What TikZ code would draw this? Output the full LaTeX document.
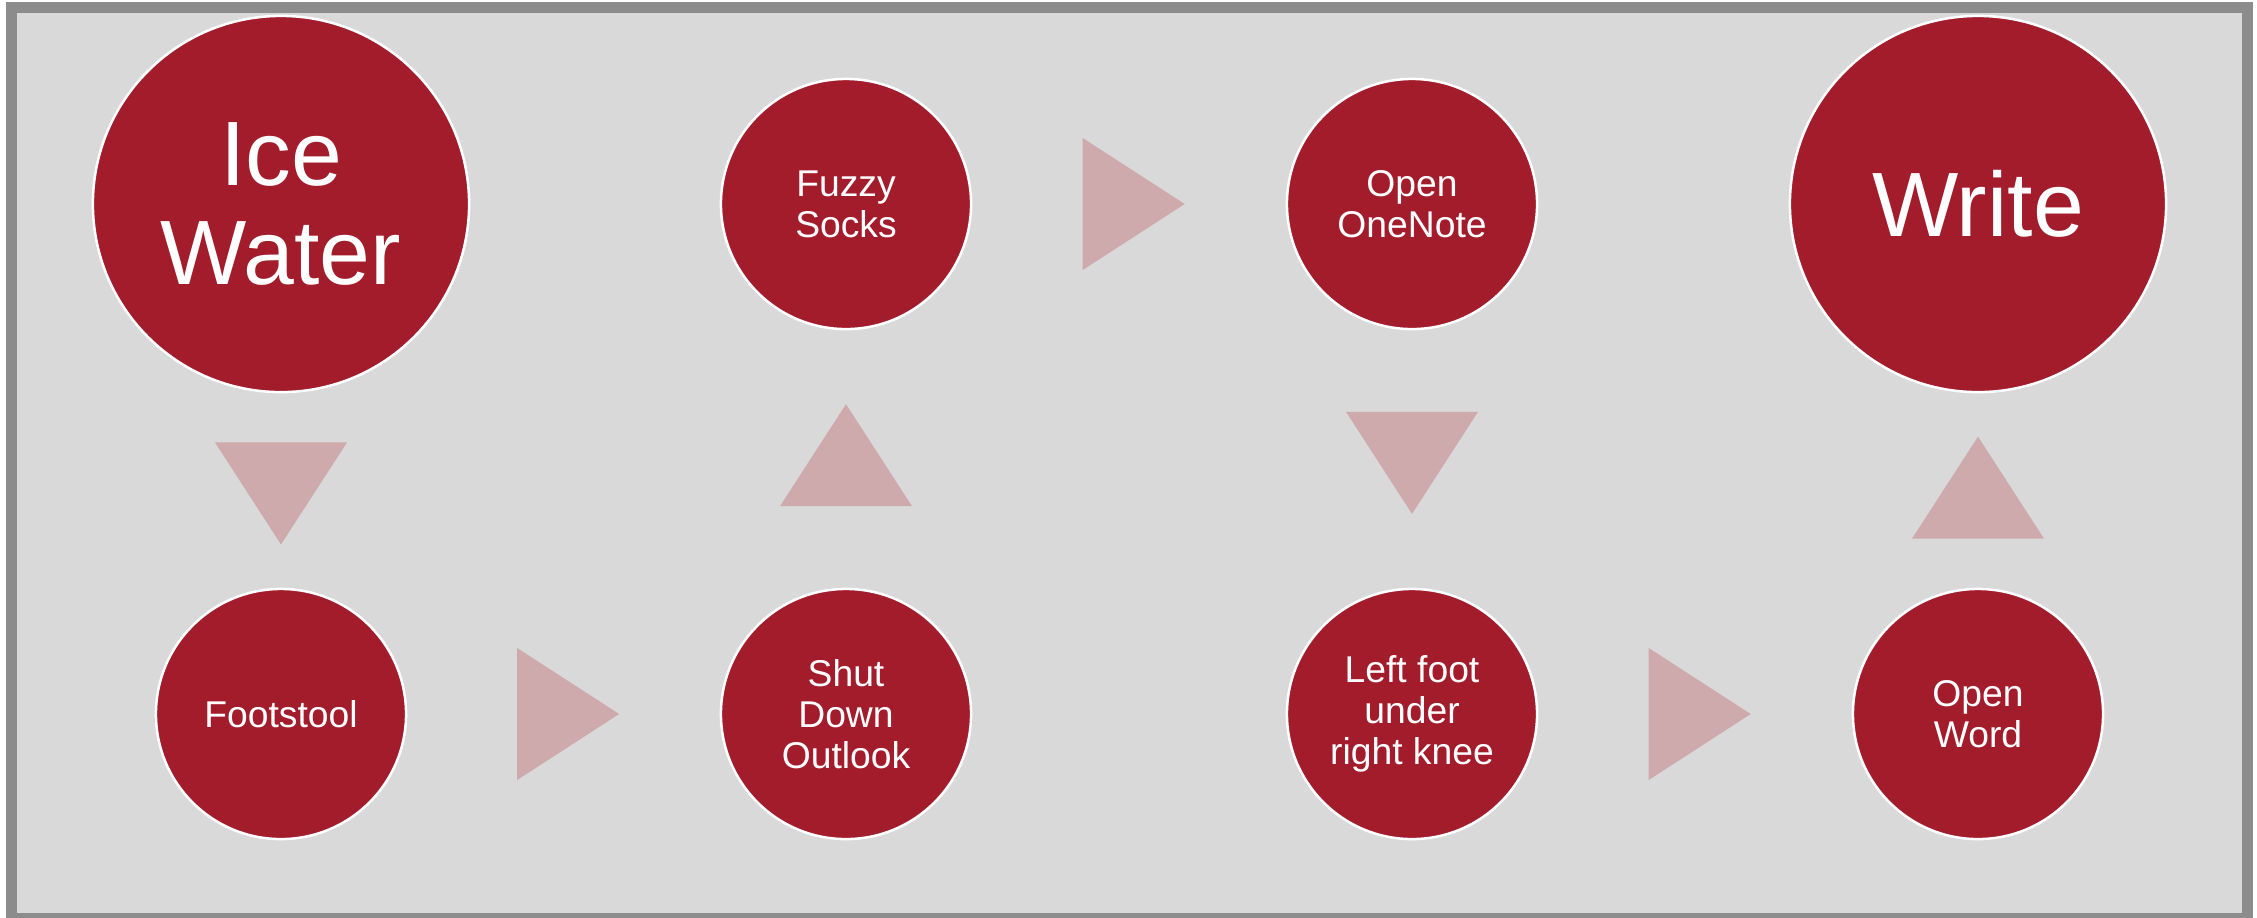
\documentclass[tikz,border=0pt]{standalone}
\usepackage{fontspec}
\setmainfont{Liberation Sans}
\usetikzlibrary{calc}

\definecolor{stepred}{RGB}{163,28,44}
\definecolor{arrowpink}{RGB}{207,170,173}
\definecolor{panelgray}{RGB}{217,217,217}
\definecolor{framegray}{RGB}{140,140,140}

\begin{document}
\begin{tikzpicture}[x=0.01cm, y=-0.01cm,
        bigstep/.style={circle, fill=stepred, draw=white, line width=0.025cm, inner sep=0pt,
            minimum size=3.76cm, text=white, align=center, font=\fontsize{26}{28}\selectfont},
        smallstep/.style={bigstep, minimum size=2.5cm, font=\fontsize{10.6}{11.7}\selectfont},
        arrowtri/.style={fill=arrowpink}]
        \useasboundingbox (0, 0) rectangle (2257, 917);
        \filldraw [fill=panelgray, draw=framegray, line width=0.11cm] (11.5, 7) rectangle (2247.5, 918);

        \node [bigstep] (ice) at (281, 204) {Ice\\Water};
        \node [smallstep] (footstool) at (281, 714) {Footstool};
        \node [smallstep] (outlook) at (846, 714) {Shut\\Down\\Outlook};
        \node [smallstep] (socks) at (846, 204) {Fuzzy\\Socks};
        \node [smallstep] (onenote) at (1412, 204) {Open\\OneNote};
        \node [smallstep] (leftfoot) at (1412, 714) {Left foot\\under\\right knee};
        \node [smallstep] (word) at (1978, 714) {Open\\Word};
        \node [bigstep] (write) at (1978, 204) {Write};

        % triangles halfway between the circles
        \coordinate (t1) at ($(ice.south)!0.515!(footstool.north)$);
        \coordinate (t2) at ($(footstool.east)!0.515!(outlook.west)$);
        \coordinate (t3) at ($(outlook.north)!0.515!(socks.south)$);
        \coordinate (t4) at ($(socks.east)!0.515!(onenote.west)$);
        \coordinate (t5) at ($(onenote.south)!0.515!(leftfoot.north)$);
        \coordinate (t6) at ($(leftfoot.east)!0.515!(word.west)$);
        \coordinate (t7) at ($(word.north)!0.515!(write.south)$);

        \fill [arrowtri] ($(t1) + (-66, -51)$) -- ($(t1) + (66, -51)$) -- ($(t1) + (0, 51)$) -- cycle;
        \fill [arrowtri] ($(t2) + (-51, -66)$) -- ($(t2) + (-51, 66)$) -- ($(t2) + (51, 0)$) -- cycle;
        \fill [arrowtri] ($(t3) + (-66, 51)$) -- ($(t3) + (66, 51)$) -- ($(t3) + (0, -51)$) -- cycle;
        \fill [arrowtri] ($(t4) + (-51, -66)$) -- ($(t4) + (-51, 66)$) -- ($(t4) + (51, 0)$) -- cycle;
        \fill [arrowtri] ($(t5) + (-66, -51)$) -- ($(t5) + (66, -51)$) -- ($(t5) + (0, 51)$) -- cycle;
        \fill [arrowtri] ($(t6) + (-51, -66)$) -- ($(t6) + (-51, 66)$) -- ($(t6) + (51, 0)$) -- cycle;
        \fill [arrowtri] ($(t7) + (-66, 51)$) -- ($(t7) + (66, 51)$) -- ($(t7) + (0, -51)$) -- cycle;
    \end{tikzpicture}
\end{document}
